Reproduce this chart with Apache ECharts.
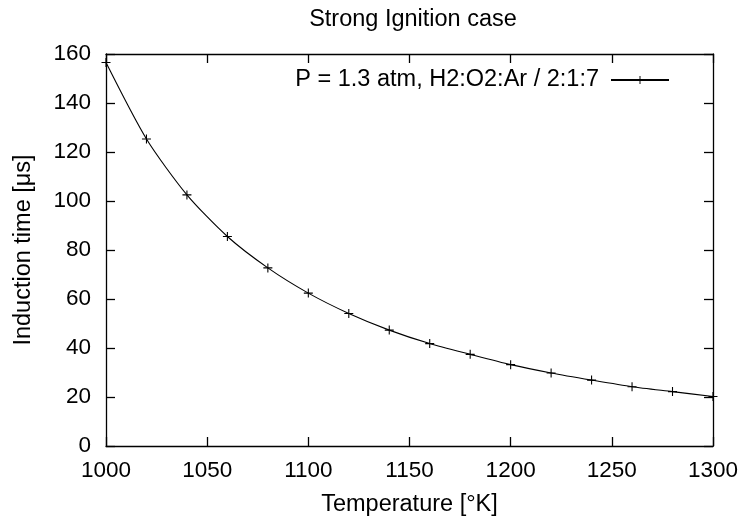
<!DOCTYPE html>
<html><head><meta charset="utf-8">
<script src="https://cdn.jsdelivr.net/npm/echarts@6/dist/echarts.min.js"></script>
<style>html,body{margin:0;padding:0;background:#fff}#c{width:741px;height:522px}</style>
</head><body><div id="c"></div>
<script>
const temperatures = [1000,1020,1040,1060,1080,1100,1120,1140,1160,1180,1200,1220,1240,1260,1280,1300];
const inductionTimes = [156.5,125.3,102.5,85.5,72.7,62.4,54.1,47.3,41.8,37.4,33.2,29.8,26.9,24.2,22.2,20.2];
const seriesName = 'P = 1.3 atm, H2:O2:Ar / 2:1:7';
const titleText = 'Strong Ignition case';
const xName = 'Temperature [°K]';
const yName = 'Induction time [μs]';

const FONT = 'Liberation Sans, Arial, Helvetica, sans-serif';
const plus = 'path://M4.4,0h1.2v4.4h4.4v1.2h-4.4v4.4h-1.2v-4.4h-4.4v-1.2h4.4z';
const chart = echarts.init(document.getElementById('c'), null, {renderer:'canvas'});
const axisCommon = {
  axisLine:{show:true,onZero:false,lineStyle:{color:'#000',width:1.3}},
  axisTick:{show:true,inside:true,length:9,lineStyle:{color:'#000',width:1.3}},
  splitLine:{show:false}
};
const tickFont = {fontFamily:FONT,fontSize:22.5,color:'#000'};
chart.setOption({
  animation:false,
  backgroundColor:'#fff',
  title:{text:titleText,left:408,textAlign:'center',top:3,textStyle:{fontFamily:FONT,fontSize:23.5,fontWeight:'normal',color:'#000'}},
  legend:{
    right:66, top:63, align:'right', itemWidth:58, itemHeight:10, itemGap:0,
    textStyle:{fontFamily:FONT,fontSize:23.5,lineHeight:24,color:'#000',padding:[0,7,0,0]},
    data:[{name:seriesName}]
  },
  grid:{left:106,right:28,top:54,bottom:74,containLabel:false},
  xAxis:[
    Object.assign({type:'value',min:1000,max:1300,interval:50,position:'bottom',
      name:xName,nameLocation:'middle',nameGap:47,
      nameTextStyle:{fontFamily:FONT,fontSize:23.5,color:'#000'},
      axisLabel:Object.assign({margin:13,formatter:v=>String(v)},tickFont)},axisCommon),
    Object.assign({type:'value',min:1000,max:1300,interval:50,position:'top',
      axisLabel:{show:false}},axisCommon)
  ],
  yAxis:[
    Object.assign({type:'value',min:0,max:160,interval:20,position:'left',
      name:yName,nameLocation:'middle',nameGap:70,
      nameTextStyle:{fontFamily:FONT,fontSize:23.5,color:'#000'},
      axisLabel:Object.assign({margin:15},tickFont)},axisCommon),
    Object.assign({type:'value',min:0,max:160,interval:20,position:'right',
      axisLabel:{show:false}},axisCommon)
  ],
  series:[{
    name:seriesName,type:'line',xAxisIndex:0,yAxisIndex:0,
    data:temperatures.map((t,i)=>[t,inductionTimes[i]]),
    smooth:0.25,symbol:plus,symbolSize:9,showSymbol:true,
    lineStyle:{color:'#000',width:1.1},
    itemStyle:{color:'#000',borderWidth:0}
  }]
});
</script></body></html>
